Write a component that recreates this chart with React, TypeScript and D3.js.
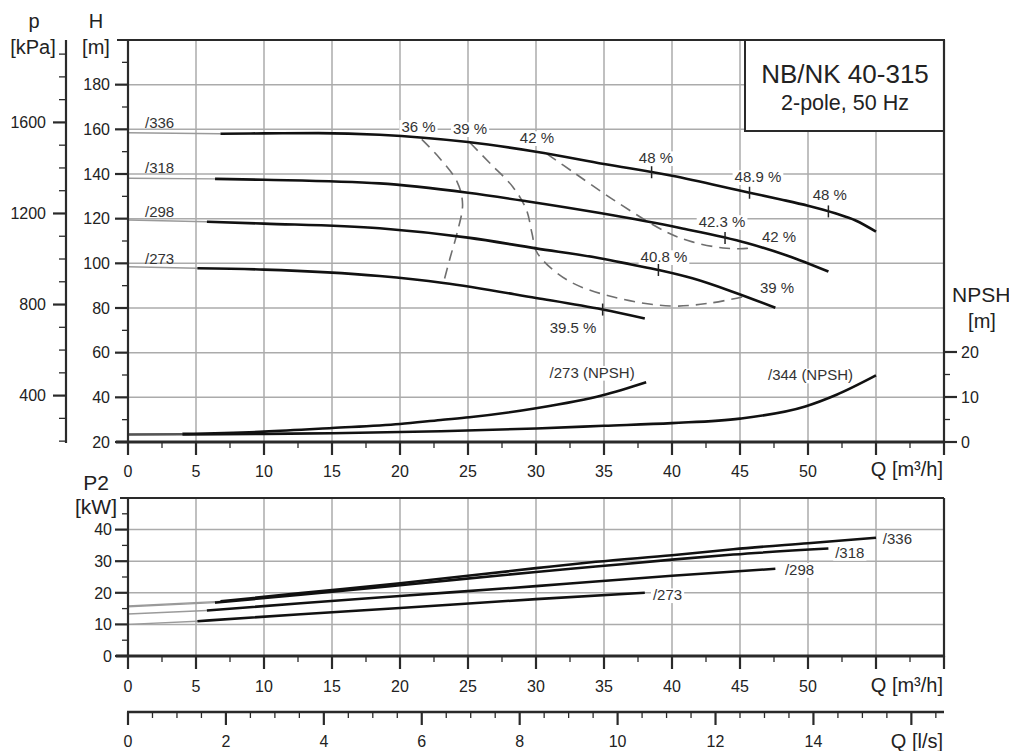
import React from 'react';
import * as d3 from 'd3';

type P = [number, number];

// ---------- Data ----------
// Head curves H [m] vs Q [m3/h]; first segment (index 0 -> 1) is the thin extension
const head336: P[] = [[0, 158.5], [6.8, 158.0], [10, 158.2], [14, 158.3], [18.5, 157.6], [25, 154.3], [30, 150.0], [35, 144.5], [40, 139.2], [45.7, 131.6], [48, 128.6], [50, 125.8], [52, 122.4], [53.5, 119.2], [55, 114.2]];
const head318: P[] = [[0, 138.1], [6.4, 137.8], [10, 137.4], [18.5, 135.8], [25, 131.6], [29.3, 127.8], [34.7, 122.5], [40.6, 115.8], [45.5, 109.1], [48.5, 103.4], [51.5, 96.3]];
const head298: P[] = [[0, 119.4], [5.8, 118.6], [10, 117.8], [18.5, 115.7], [25, 111.5], [30, 106.7], [34.7, 102.3], [37, 99.5], [39.1, 96.9], [41.5, 93.3], [44.5, 87.2], [47.6, 80.1]];
const head273: P[] = [[0, 98.5], [5.1, 97.8], [10, 97.2], [18.5, 94.3], [23.2, 91.2], [30, 84.5], [34.9, 79.3], [38, 75.3]];
const headCurves = [head336, head318, head298, head273];
const headNames = ['/336', '/318', '/298', '/273'];
const headLabelQ = [1.25, 1.25, 1.25, 1.25];
const headLabelH = [160.5, 140.3, 120.9, 99.7];

// NPSH curves [m]
const npsh273: P[] = [[0, 1.7], [4, 1.8], [10, 2.3], [15, 3.1], [20, 4.0], [23, 4.9], [25.1, 5.5], [30, 7.5], [34.9, 10.4], [38.1, 13.3]];
const npsh344: P[] = [[0, 1.6], [4, 1.65], [10, 1.8], [15, 1.95], [23, 2.4], [30, 3.0], [35, 3.6], [40, 4.2], [45, 5.2], [49.8, 7.9], [52.1, 10.5], [55, 14.8]];
const npshCurves = [npsh273, npsh344];
const npshNames = ['/273 (NPSH)', '/344 (NPSH)'];
const npshLabelQ = [31.0, 47.06];
const npshLabelN = [14.3, 13.7];

// Iso-efficiency curves (Q, H)
const eff36: P[] = [[21.6, 155.5], [22.9, 147.2], [24.2, 136.5], [24.6, 126.5], [24.2, 113.6], [23.7, 102.8], [23.2, 91.4]];
const eff39: P[] = [[25.15, 154.0], [26.6, 144.9], [28.3, 134.2], [29.3, 123.9], [29.7, 113.6], [30.1, 104.6], [32.3, 92.5], [35.7, 84.9], [39.9, 80.9], [42.8, 82.2], [45.2, 85.0]];
const eff42: P[] = [[30.8, 149.0], [32.7, 141.0], [35.7, 128.4], [39.6, 114.0], [41.5, 109.6], [43.75, 106.9], [45.5, 106.7], [46.1, 107.8]];
const effCurves = [eff36, eff39, eff42];

// Efficiency annotations
const effText = ['36 %', '39 %', '42 %', '48 %', '48.9 %', '48 %', '42.3 %', '42 %', '40.8 %', '39 %', '39.5 %'];
const effQ = [21.36, 25.15, 30.07, 38.82, 46.32, 51.6, 43.68, 47.87, 39.41, 47.72, 32.72];
const effH = [158.9, 157.9, 153.9, 144.9, 136.4, 128.4, 116.3, 109.6, 100.6, 86.7, 68.8];

// Best-efficiency markers: curve index & Q
const bepCurve = [0, 0, 0, 1, 2, 3];
const bepQ = [38.5, 45.7, 51.5, 43.9, 39.0, 34.9];

// Power curves P2 [kW]
const p336: P[] = [[0, 15.8], [6.8, 17.3], [12.7, 19.9], [20, 23.0], [30, 27.8], [34.4, 29.8], [40, 31.9], [44.5, 33.8], [50, 35.7], [55, 37.4]];
const p318: P[] = [[0, 15.6], [6.4, 16.9], [12.7, 19.4], [20, 22.4], [30, 26.6], [34.4, 28.3], [40, 30.5], [44.5, 32.1], [51.5, 34.0]];
const p298: P[] = [[0, 13.3], [5.8, 14.4], [12.7, 16.7], [20, 19.0], [30, 22.1], [34.4, 23.6], [40, 25.4], [47.6, 27.6]];
const p273: P[] = [[0, 10.0], [5.1, 11.0], [12.7, 13.2], [20, 15.2], [30, 18.0], [38, 20.0]];
const powerCurves = [p336, p318, p298, p273];
const powerLabelQ = [55.5, 52.0, 48.3, 38.6];
const powerLabelP = [35.3, 31.1, 25.7, 17.7];

// Ticks
const qLabels = [0, 5, 10, 15, 20, 25, 30, 35, 40, 45, 50];
const hLabels = [20, 40, 60, 80, 100, 120, 140, 160, 180];
const pKpaLabels = [400, 800, 1200, 1600];
const npshLabels = [0, 10, 20];
const p2Labels = [0, 10, 20, 30, 40];
const lsLabels = [0, 2, 4, 6, 8, 10, 12, 14];

const FONT = '"Liberation Sans", Arial, Helvetica, sans-serif';

const cw: Record<string, number> = { '.': 0.278, ' ': 0.278, '%': 0.889, '/': 0.278, '(': 0.333, ')': 0.333, N: 0.722, P: 0.667, S: 0.667, H: 0.722 };
const textWidth = (s: string, fs: number) => s.split('').reduce((a, c) => a + (cw[c] ?? 0.556), 0) * fs;

const interp = (data: P[], q: number) => {
  for (let i = 1; i < data.length; i++) {
    if (q <= data[i][0]) {
      const [q0, h0] = data[i - 1];
      const [q1, h1] = data[i];
      return h0 + ((q - q0) / (q1 - q0)) * (h1 - h0);
    }
  }
  return data[data.length - 1][1];
};

export default function App() {
  const x = d3.scaleLinear().domain([0, 60]).range([128, 944]);
  const yH = d3.scaleLinear().domain([20, 200]).range([442, 40]);
  const yN = d3.scaleLinear().domain([0, 20]).range([442, 352]);
  const yP = d3.scaleLinear().domain([0, 50]).range([656, 498]);
  const xL = d3.scaleLinear().domain([0, 60 / 3.6]).range([128, 944]);
  const yKpa = (p: number) => yH(p / 9.81);

  const lineH = d3.line<P>().x(d => x(d[0])).y(d => yH(d[1])).curve(d3.curveMonotoneX);
  const lineN = d3.line<P>().x(d => x(d[0])).y(d => yN(d[1])).curve(d3.curveMonotoneX);
  const lineP = d3.line<P>().x(d => x(d[0])).y(d => yP(d[1])).curve(d3.curveMonotoneX);
  const lineE = d3.line<P>().x(d => x(d[0])).y(d => yH(d[1])).curve(d3.curveCatmullRom.alpha(0.5));

  const grid = '#ababab';
  const axis = '#2a2a2a';
  const txt = '#222';

  const qMinor = d3.range(0, 60.01, 2.5);
  const qGrid = d3.range(5, 56, 5);

  const topLeft = 128, right = 944;

  const labelBox = (s: string, cx: number, by: number, fs: number, anchor: 'middle' | 'start', key: string) => {
    const w = textWidth(s, fs);
    const x0 = anchor === 'middle' ? cx - w / 2 : cx;
    return <rect key={key} x={x0 - 2} y={by - fs * 0.78} width={w + 4} height={fs * 0.98} fill="#fff" />;
  };

  return (
    <svg width={1009} height={751} style={{ position: 'absolute', left: 0, top: 0, background: '#fff' }} fontFamily={FONT}>
      <rect x={0} y={0} width={1009} height={751} fill="#fff" />

      {/* ===== TOP CHART ===== */}
      {qGrid.map(q => (
        <line key={'vg' + q} x1={x(q)} x2={x(q)} y1={yH(200)} y2={yH(20)} stroke={grid} strokeWidth={1.5} />
      ))}
      {d3.range(40, 181, 20).map(h => (
        <line key={'hg' + h} x1={topLeft} x2={right} y1={yH(h)} y2={yH(h)} stroke={grid} strokeWidth={1.5} />
      ))}

      {effText.map((s, i) => labelBox(s, x(effQ[i]), yH(effH[i]), 15, 'middle', 'eb' + i))}
      {npshNames.map((s, i) => labelBox(s, x(npshLabelQ[i]), yN(npshLabelN[i]), 15, 'start', 'nb' + i))}

      <rect x={745} y={40} width={199} height={91} fill="#fff" stroke={axis} strokeWidth={2} />
      <text x={845} y={83} fontSize={26} textAnchor="middle" fill={txt}>NB/NK 40-315</text>
      <text x={845} y={110} fontSize={21.5} textAnchor="middle" fill={txt}>2-pole, 50 Hz</text>

      {effCurves.map((c, i) => (
        <path key={'ef' + i} d={lineE(c) || ''} fill="none" stroke="#6f6f6f" strokeWidth={1.6} strokeDasharray="11 7" />
      ))}

      {headCurves.map((c, i) => (
        <g key={'hc' + i}>
          <path d={lineH(c.slice(0, 2)) || ''} fill="none" stroke="#9a9a9a" strokeWidth={1.4} />
          <path d={lineH(c.slice(1)) || ''} fill="none" stroke="#111" strokeWidth={2.6} />
          <text x={x(headLabelQ[i])} y={yH(headLabelH[i])} fontSize={15} fill="#333">{headNames[i]}</text>
        </g>
      ))}

      {npshCurves.map((c, i) => (
        <g key={'nc' + i}>
          <path d={lineN(c.slice(0, 2)) || ''} fill="none" stroke="#555" strokeWidth={2} />
          <path d={lineN(c.slice(1)) || ''} fill="none" stroke="#111" strokeWidth={2.6} />
          <text x={x(npshLabelQ[i])} y={yN(npshLabelN[i])} fontSize={15} fill="#333">{npshNames[i]}</text>
        </g>
      ))}

      {bepQ.map((q, i) => {
        const yy = yH(interp(headCurves[bepCurve[i]], q));
        return <line key={'bp' + i} x1={x(q)} x2={x(q)} y1={yy - 6} y2={yy + 6} stroke="#222" strokeWidth={1.5} />;
      })}

      {effText.map((s, i) => (
        <text key={'et' + i} x={x(effQ[i])} y={yH(effH[i])} fontSize={15} textAnchor="middle" fill="#333">{s}</text>
      ))}

      <line x1={117} x2={right} y1={40} y2={40} stroke={axis} strokeWidth={2} />
      <line x1={topLeft} x2={topLeft} y1={40} y2={443} stroke={axis} strokeWidth={2.2} />
      <line x1={right} x2={right} y1={40} y2={443} stroke={axis} strokeWidth={2.2} />
      <line x1={topLeft - 12} x2={right} y1={442} y2={442} stroke={axis} strokeWidth={3} />

      {d3.range(20, 200, 10).map(h => (
        <line key={'ht' + h} x1={h % 20 === 0 ? 115 : 122} x2={topLeft} y1={yH(h)} y2={yH(h)} stroke={axis} strokeWidth={h % 20 === 0 ? 2.2 : 1.3} />
      ))}
      {hLabels.map(h => (
        <text key={'hl' + h} x={110} y={yH(h)} dy="0.36em" fontSize={16} textAnchor="end" fill={txt}>{h}</text>
      ))}

      <line x1={66} x2={66} y1={40} y2={443} stroke={axis} strokeWidth={2.2} />
      {d3.range(200, 1901, 100).map(p => (
        <line key={'pt' + p} x1={p % 400 === 0 ? 53 : 59} x2={66} y1={yKpa(p)} y2={yKpa(p)} stroke={axis} strokeWidth={p % 400 === 0 ? 2.2 : 1.3} />
      ))}
      {pKpaLabels.map(p => (
        <text key={'pl' + p} x={46} y={yKpa(p)} dy="0.36em" fontSize={16} textAnchor="end" fill={txt}>{p}</text>
      ))}

      {d3.range(0, 20.1, 5).map(n => (
        <line key={'nt' + n} x1={right} x2={n % 10 === 0 ? 957 : 950} y1={yN(n)} y2={yN(n)} stroke={axis} strokeWidth={n % 10 === 0 ? 2.2 : 1.3} />
      ))}
      {npshLabels.map(n => (
        <text key={'nl' + n} x={961} y={yN(n)} dy="0.36em" fontSize={16} fill={txt}>{n}</text>
      ))}

      {qMinor.map(q => (
        <line key={'qt' + q} x1={x(q)} x2={x(q)} y1={442} y2={q % 5 === 0 ? 455 : 448} stroke={axis} strokeWidth={q % 5 === 0 ? 2.2 : 1.3} />
      ))}
      {qLabels.map(q => (
        <text key={'ql' + q} x={x(q)} y={477} fontSize={16} textAnchor="middle" fill={txt}>{q}</text>
      ))}
      <text x={943} y={476} fontSize={20} textAnchor="end" fill={txt}>Q [m³/h]</text>

      <text x={34} y={28} fontSize={20} textAnchor="middle" fill={txt}>p</text>
      <text x={33} y={54} fontSize={20} textAnchor="middle" fill={txt}>[kPa]</text>
      <text x={96} y={28} fontSize={20} textAnchor="middle" fill={txt}>H</text>
      <text x={96} y={54} fontSize={20} textAnchor="middle" fill={txt}>[m]</text>
      <text x={952} y={302} fontSize={21} fill={txt}>NPSH</text>
      <text x={982} y={328} fontSize={20} textAnchor="middle" fill={txt}>[m]</text>

      {/* ===== BOTTOM CHART ===== */}
      {qGrid.map(q => (
        <line key={'bvg' + q} x1={x(q)} x2={x(q)} y1={yP(50)} y2={yP(0)} stroke={grid} strokeWidth={1.5} />
      ))}
      {d3.range(10, 41, 10).map(p => (
        <line key={'bhg' + p} x1={topLeft} x2={right} y1={yP(p)} y2={yP(p)} stroke={grid} strokeWidth={1.5} />
      ))}
      {powerCurves.map((c, i) => labelBox(headNames[i], x(powerLabelQ[i]), yP(powerLabelP[i]), 15, 'start', 'pb' + i))}
      {powerCurves.map((c, i) => (
        <g key={'pc' + i}>
          <path d={lineP(c.slice(0, 2)) || ''} fill="none" stroke="#9a9a9a" strokeWidth={1.4} />
          <path d={lineP(c.slice(1)) || ''} fill="none" stroke="#111" strokeWidth={2.6} />
          <text x={x(powerLabelQ[i])} y={yP(powerLabelP[i])} fontSize={15} fill="#333">{headNames[i]}</text>
        </g>
      ))}
      <line x1={120} x2={right} y1={498} y2={498} stroke={axis} strokeWidth={2} />
      <line x1={topLeft} x2={topLeft} y1={498} y2={657} stroke={axis} strokeWidth={2.2} />
      <line x1={right} x2={right} y1={498} y2={657} stroke={axis} strokeWidth={2.2} />
      <line x1={topLeft - 12} x2={right} y1={656} y2={656} stroke={axis} strokeWidth={3} />
      {d3.range(0, 50, 5).map(p => (
        <line key={'p2t' + p} x1={p % 10 === 0 ? 115 : 122} x2={topLeft} y1={yP(p)} y2={yP(p)} stroke={axis} strokeWidth={p % 10 === 0 ? 2.2 : 1.3} />
      ))}
      {p2Labels.map(p => (
        <text key={'p2l' + p} x={112} y={yP(p)} dy="0.36em" fontSize={16} textAnchor="end" fill={txt}>{p}</text>
      ))}
      {qMinor.map(q => (
        <line key={'bqt' + q} x1={x(q)} x2={x(q)} y1={656} y2={q % 5 === 0 ? 669 : 662} stroke={axis} strokeWidth={q % 5 === 0 ? 2.2 : 1.3} />
      ))}
      {qLabels.map(q => (
        <text key={'bql' + q} x={x(q)} y={692} fontSize={16} textAnchor="middle" fill={txt}>{q}</text>
      ))}
      <text x={943} y={692} fontSize={20} textAnchor="end" fill={txt}>Q [m³/h]</text>
      <text x={96} y={490} fontSize={21} textAnchor="middle" fill={txt}>P2</text>
      <text x={96} y={514} fontSize={21} textAnchor="middle" fill={txt}>[kW]</text>

      <line x1={127} x2={right} y1={712} y2={712} stroke={axis} strokeWidth={2.6} />
      {d3.range(0, 16.67, 0.5).map(l => (
        <line key={'lt' + l} x1={xL(l)} x2={xL(l)} y1={712} y2={l % 2 === 0 ? 725 : 718} stroke={axis} strokeWidth={l % 2 === 0 ? 2.2 : 1.3} />
      ))}
      {lsLabels.map(l => (
        <text key={'ll' + l} x={xL(l)} y={747} fontSize={16} textAnchor="middle" fill={txt}>{l}</text>
      ))}
      <text x={943} y={748} fontSize={20} textAnchor="end" fill={txt}>Q [l/s]</text>
    </svg>
  );
}
